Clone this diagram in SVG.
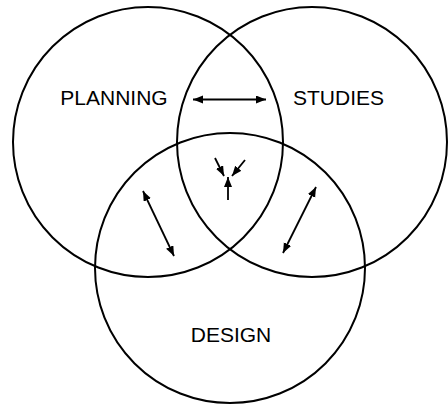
<svg xmlns="http://www.w3.org/2000/svg" width="448" height="405" viewBox="0 0 448 405">
  <style>
    .ring { fill: none; stroke: #000; stroke-width: 2; }
    .lbl { font-family: "Liberation Sans", Arial, sans-serif; font-size: 21px; fill: #000; text-anchor: middle; }
    .arr { fill: none; stroke: #000; stroke-width: 1.8; }
  </style>
  <defs>
    <marker id="ah" markerUnits="userSpaceOnUse" markerWidth="11" markerHeight="9" refX="10" refY="4" orient="auto-start-reverse">
      <path d="M0,0 L10,4 L0,8 z" fill="#000"/>
    </marker>
  </defs>
  <rect width="448" height="405" fill="#fff"/>
  <g id="planning">
    <circle class="ring" cx="148" cy="142" r="135"/>
    <text class="lbl" x="114" y="105">PLANNING</text>
  </g>
  <g id="studies">
    <circle class="ring" cx="312" cy="142" r="135"/>
    <text class="lbl" x="338.5" y="105">STUDIES</text>
  </g>
  <g id="design">
    <circle class="ring" cx="230" cy="268" r="135"/>
    <text class="lbl" x="231" y="342">DESIGN</text>
  </g>
  <g id="connectors">
    <line class="arr" x1="193" y1="99.5" x2="266" y2="99.5" marker-start="url(#ah)" marker-end="url(#ah)"/>
    <line class="arr" x1="143" y1="191" x2="174" y2="256" marker-start="url(#ah)" marker-end="url(#ah)"/>
    <line class="arr" x1="316" y1="187" x2="283" y2="253" marker-start="url(#ah)" marker-end="url(#ah)"/>
    <line class="arr" x1="215" y1="158" x2="224" y2="176" marker-end="url(#ah)"/>
    <line class="arr" x1="245" y1="160" x2="232" y2="176" marker-end="url(#ah)"/>
    <line class="arr" x1="228" y1="200" x2="228" y2="177" marker-end="url(#ah)"/>
  </g>
</svg>
